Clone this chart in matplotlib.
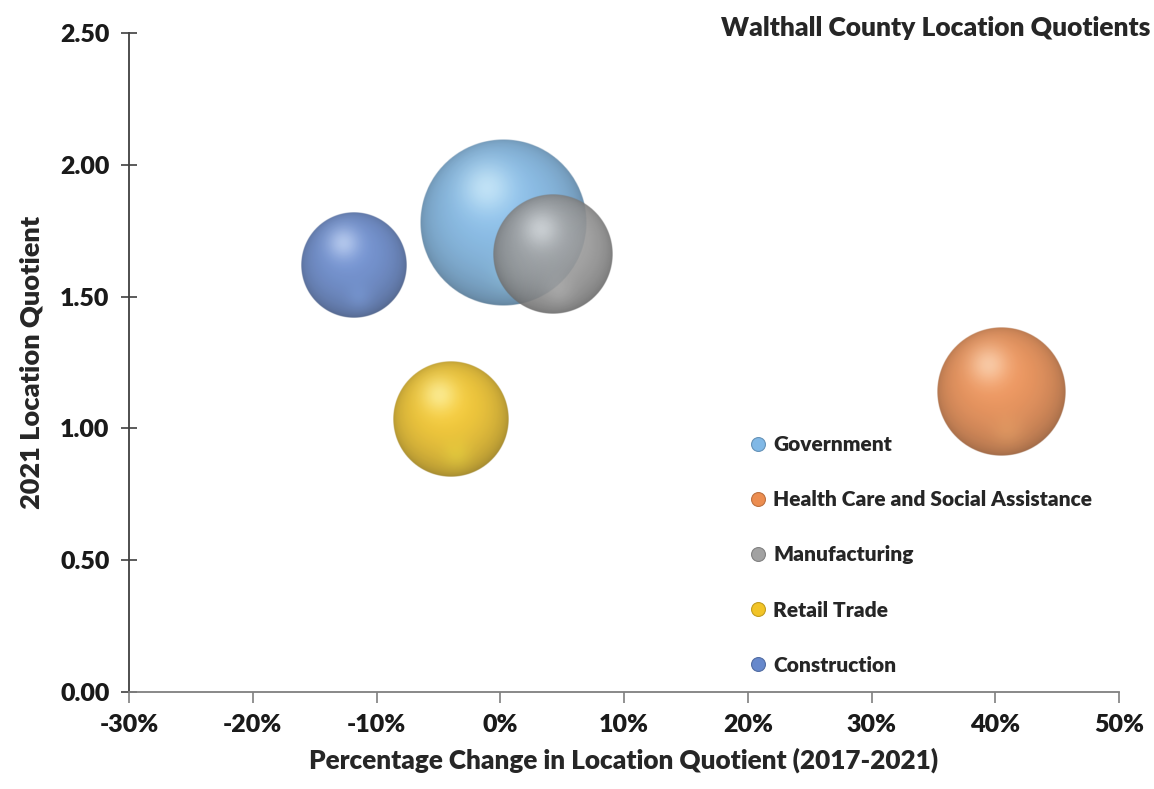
import numpy as np
import matplotlib
matplotlib.use("Agg")
import matplotlib.pyplot as plt
import matplotlib.colors as mcolors
from matplotlib.lines import Line2D
from matplotlib.ticker import PercentFormatter, MultipleLocator

# data
sectors = ["Government", "Health Care and Social Assistance", "Manufacturing",
           "Retail Trade", "Construction"]
pct_change = [0.002, 0.405, 0.043, -0.040, -0.118]   # x: change in LQ 2017-2021
lq_2021 = [1.78, 1.14, 1.66, 1.035, 1.62]            # y: 2021 location quotient
bubble_size = [6900, 4100, 3600, 3350, 2800]         # relative bubble area
colors = ["#80b8e6", "#ec8d50", "#a2a2a2", "#f2c427", "#6688cc"]

WEIGHT = "heavy"
plt.rcParams["font.family"] = ["Lato", "DejaVu Sans"]
plt.rcParams["font.weight"] = WEIGHT
plt.rcParams["axes.unicode_minus"] = False

W, H, DPI = 1154, 789, 100
fig = plt.figure(figsize=(W / DPI, H / DPI), dpi=DPI)
left, right, bottom, top = 129 / W, 1119 / W, 1 - 692 / H, 1 - 33 / H
ax = fig.add_axes([left, bottom, right - left, top - bottom])
xlim = (-0.30, 0.50)
ylim = (0.0, 2.5)

px_per_x = (right - left) * W / (xlim[1] - xlim[0])
px_per_y = (top - bottom) * H / (ylim[1] - ylim[0])


def sphere_rgba(color, n=301, alpha=1.0):
    c = np.array(mcolors.to_rgb(color))
    yy, xx = np.mgrid[-1:1:n * 1j, -1:1:n * 1j]
    d = np.sqrt(xx ** 2 + yy ** 2)
    z = np.sqrt(np.clip(1 - d ** 2, 0, 1))
    shade = 0.66 + 0.34 * z
    shade *= 1 - 0.10 * (yy + 0.3 * xx)
    col = c[None, None, :] * shade[..., None]
    # soft bottom reflection
    refl = np.exp(-((xx - 0.1) ** 2 + (yy - 0.62) ** 2) / 0.06) * 0.22
    col = col * (1 - refl[..., None]) + refl[..., None] * np.minimum(c * 1.3, 1)
    # specular highlight upper left
    hl = np.exp(-((xx + 0.2) ** 2 + (yy + 0.42) ** 2) / 0.09) * 0.55
    col = col * (1 - hl[..., None]) + hl[..., None] * np.minimum(c * 0.4 + 0.7, 1)
    col = np.clip(col, 0, 1)
    a = np.clip((1 - d) * n / 2, 0, 1) * alpha
    return np.dstack([col, a])


for x, y, s, c in zip(pct_change, lq_2021, bubble_size, colors):
    r = np.sqrt(s)
    rx, ry = r / px_per_x, r / px_per_y
    ax.imshow(sphere_rgba(c, alpha=0.9), extent=[x - rx, x + rx, y - ry, y + ry],
              aspect="auto", interpolation="bilinear", zorder=3)

ax.set_xlim(*xlim)
ax.set_ylim(*ylim)
ax.xaxis.set_major_locator(MultipleLocator(0.10))
ax.xaxis.set_major_formatter(PercentFormatter(1.0, decimals=0))
ax.yaxis.set_major_locator(MultipleLocator(0.5))
ax.yaxis.set_major_formatter(lambda v, p: f"{v:.2f}")

for side in ["top", "right"]:
    ax.spines[side].set_visible(False)
ax.spines["left"].set_color("#404040")
ax.spines["left"].set_linewidth(1.3)
ax.spines["bottom"].set_color("#7f7f7f")
ax.spines["bottom"].set_linewidth(1.3)
ax.tick_params(axis="y", direction="inout", length=12, width=1.2, color="#404040",
               labelsize=18, pad=8)
ax.tick_params(axis="x", direction="out", length=8, width=1.2, color="#7f7f7f",
               labelsize=18, pad=8)
for lab in ax.get_xticklabels() + ax.get_yticklabels():
    lab.set_fontweight(WEIGHT)
    lab.set_color("#1a1a1a")

ax.set_xlabel("Percentage Change in Location Quotient (2017-2021)", fontsize=18.8,
              fontweight=WEIGHT, color="#262626", labelpad=8)
ax.set_ylabel("2021 Location Quotient", fontsize=19.5, fontweight=WEIGHT,
              color="#262626", labelpad=12)
fig.text(0.997, 0.965, "Walthall County Location Quotients", ha="right", va="center",
         fontsize=19, fontweight=WEIGHT, color="#262626")

handles = [Line2D([0], [0], marker="o", linestyle="none", markersize=10,
                  markerfacecolor=c, markeredgecolor=np.array(mcolors.to_rgb(c)) * 0.8,
                  markeredgewidth=0.8) for c in colors]
leg = ax.legend(handles, sectors, loc="upper left", bbox_to_anchor=(0.62, 0.402),
                frameon=False, fontsize=15, labelspacing=1.73, handlelength=0.7,
                handletextpad=0.35, borderaxespad=0)
for t in leg.get_texts():
    t.set_color("#262626")
    t.set_fontweight(WEIGHT)

fig.savefig("out.png", dpi=DPI)
